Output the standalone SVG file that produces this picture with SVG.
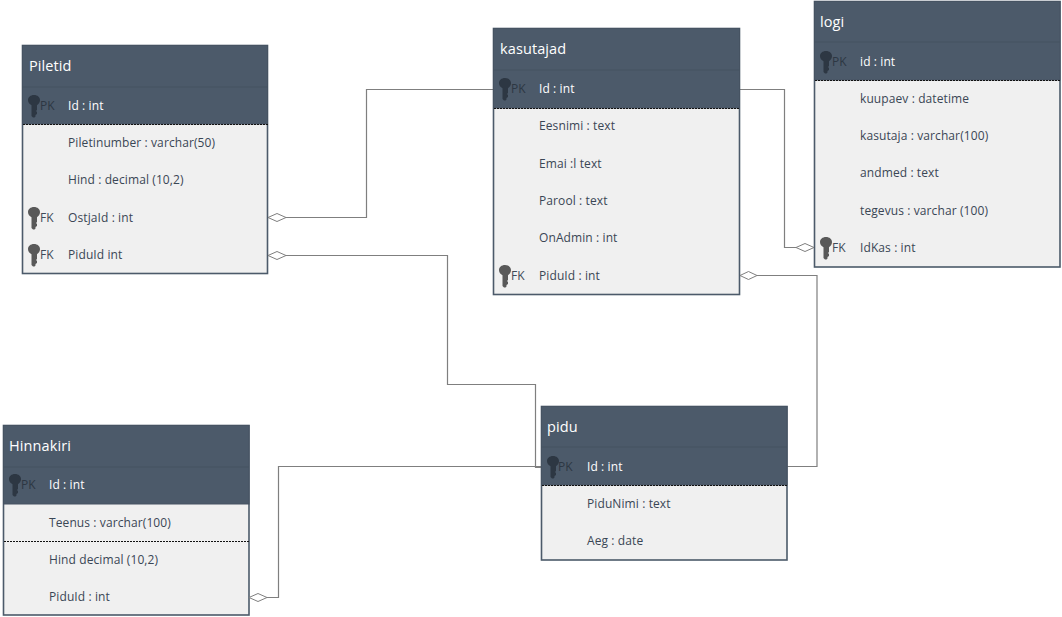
<svg xmlns="http://www.w3.org/2000/svg" width="1062" height="617" viewBox="0 0 1062 617">
<style>
text{font-family:"Open Sans","Liberation Sans",sans-serif;font-size:12px;letter-spacing:.1px}
.body{fill:#f0f0f0;stroke:#4c5a6a;stroke-width:1.6}
.head{fill:#4c5a6a;stroke:#465362;stroke-width:1}
.div{stroke:#455261;stroke-width:1}
.dash{stroke:#111;stroke-width:1;stroke-dasharray:2 1}
.t{fill:#fff;font-size:14.5px}
.f{fill:#3a4655}
.p{fill:#fff}
.kp{fill:#2d3743}
.kf{fill:#3f4a58}
.c{fill:none;stroke:#7f7f7f;stroke-width:1.2}
.d{fill:#fff;stroke:#7f7f7f;stroke-width:1}
.kpi{fill:#2d3743}
.kfi{fill:#595959}
</style>
<defs>
<path id="key" d="M0-11C3.500-11 6-8.800 6-5.800 6-3.500 4.500-1.800 3-.8V4L2 5 3 6V8L1.500 9V10.500L.5 11.500H-1L-2.500 10V-.8C-4.500-1.800-6-3.500-6-5.800-6-8.800-3.500-11 0-11Z"/>
</defs>
<g id="connectors">
<path class="c" d="M286 217.500H366.500V89.500H494"/>
<path class="c" d="M286 255.500H447.500V384.500H535.500V467.500H541"/>
<path class="c" d="M267 597.500H278.500V466.500H541"/>
<path class="c" d="M740 89.500H784.500V247.500H796"/>
<path class="c" d="M757 275.500H817V466.500H787"/>
</g>
<g id="piletid">
<rect class="body" x="22.500" y="45.500" width="245" height="228"/>
<rect class="head" x="22.500" y="45.500" width="245" height="78.500"/>
<line class="div" x1="22" y1="87" x2="268" y2="87"/>
<line class="dash" x1="23" y1="124.500" x2="268" y2="124.500"/>
<text class="t" x="29" y="71">Piletid</text>
<use class="kpi" href="#key" x="34" y="106"/><text class="kp" x="40" y="110">PK</text>
<text class="p" x="68" y="110">Id : int</text>
<text class="f" x="68" y="147">Piletinumber : varchar(50)</text>
<text class="f" x="68" y="184">Hind : decimal (10,2)</text>
<use class="kfi" href="#key" x="34" y="218"/><text class="kf" x="40" y="222">FK</text>
<text class="f" x="68" y="222">OstjaId : int</text>
<use class="kfi" href="#key" x="34" y="255"/><text class="kf" x="40" y="259">FK</text>
<text class="f" x="68" y="259">PiduId int</text>
<path class="d" d="M268 217.500l9-4 9 4-9 4Z"/>
<path class="d" d="M268 255.500l9-4 9 4-9 4Z"/>
</g>
<g id="kasutajad">
<rect class="body" x="493.500" y="28.500" width="246" height="266"/>
<rect class="head" x="493.500" y="28.500" width="246" height="79.500"/>
<line class="div" x1="493" y1="70" x2="740" y2="70"/>
<line class="dash" x1="494" y1="108.500" x2="739" y2="108.500"/>
<text class="t" x="500" y="54">kasutajad</text>
<use class="kpi" href="#key" x="505" y="89"/><text class="kp" x="511" y="93">PK</text>
<text class="p" x="539" y="93">Id : int</text>
<text class="f" x="539" y="130">Eesnimi : text</text>
<text class="f" x="539" y="168">Emai :l text</text>
<text class="f" x="539" y="205">Parool : text</text>
<text class="f" x="539" y="242">OnAdmin : int</text>
<use class="kfi" href="#key" x="505" y="276"/><text class="kf" x="511" y="280">FK</text>
<text class="f" x="539" y="280">PiduId : int</text>
<path class="d" d="M740 275.500l8.500-4 8.500 4-8.500 4Z"/>
</g>
<g id="logi">
<rect class="body" x="814.500" y="1.500" width="245.500" height="265.500"/>
<rect class="head" x="814.500" y="1.500" width="245.500" height="78.500"/>
<line class="div" x1="814" y1="42" x2="1060" y2="42"/>
<line class="dash" x1="815" y1="80.500" x2="1060" y2="80.500"/>
<text class="t" x="820" y="27">logi</text>
<use class="kpi" href="#key" x="826" y="62"/><text class="kp" x="832" y="66">PK</text>
<text class="p" x="860" y="66">id : int</text>
<text class="f" x="860" y="103">kuupaev : datetime</text>
<text class="f" x="860" y="140">kasutaja : varchar(100)</text>
<text class="f" x="860" y="177">andmed : text</text>
<text class="f" x="860" y="215">tegevus : varchar (100)</text>
<use class="kfi" href="#key" x="826" y="248"/><text class="kf" x="832" y="252">FK</text>
<text class="f" x="860" y="252">IdKas : int</text>
<path class="d" d="M796 247.500l9-4 9 4-9 4Z"/>
</g>
<g id="pidu">
<rect class="body" x="541.500" y="406.500" width="245.500" height="153.500"/>
<rect class="head" x="541.500" y="406.500" width="245.500" height="78.500"/>
<line class="div" x1="541" y1="447" x2="787" y2="447"/>
<line class="dash" x1="542" y1="485.500" x2="787" y2="485.500"/>
<text class="t" x="547" y="432">pidu</text>
<use class="kpi" href="#key" x="553" y="467"/><text class="kp" x="558" y="471">PK</text>
<text class="p" x="587" y="471">Id : int</text>
<text class="f" x="587" y="508">PiduNimi : text</text>
<text class="f" x="587" y="545">Aeg : date</text>
</g>
<g id="hinnakiri">
<rect class="body" x="3.500" y="425.500" width="245.500" height="189.500"/>
<rect class="head" x="3.500" y="425.500" width="245.500" height="78.500"/>
<line class="div" x1="3" y1="467" x2="249" y2="467"/>
<line class="dash" x1="4" y1="541.500" x2="249" y2="541.500"/>
<text class="t" x="9" y="451">Hinnakiri</text>
<use class="kpi" href="#key" x="15" y="485"/><text class="kp" x="21" y="489">PK</text>
<text class="p" x="49" y="489">Id : int</text>
<text class="f" x="49" y="527">Teenus : varchar(100)</text>
<text class="f" x="49" y="564">Hind decimal (10,2)</text>
<text class="f" x="49" y="601">PiduId : int</text>
<path class="d" d="M249 597.500l9-4 9 4-9 4Z"/>
</g>
</svg>
